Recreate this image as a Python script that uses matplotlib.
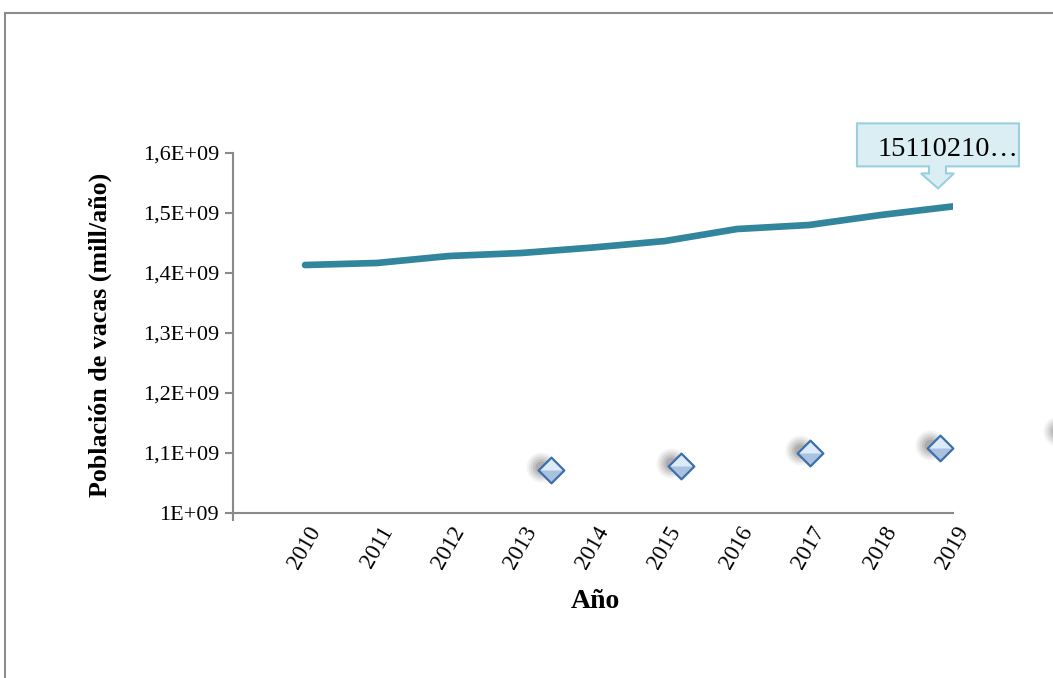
import matplotlib
matplotlib.use("Agg")
import matplotlib.pyplot as plt
import matplotlib.transforms as mtransforms
from matplotlib.patches import Polygon, Rectangle
from matplotlib.path import Path

# ---- data -------------------------------------------------------------
years = [2010, 2011, 2012, 2013, 2014, 2015, 2016, 2017, 2018, 2019]
population = [1.4133e9, 1.4167e9, 1.4283e9, 1.4333e9, 1.4425e9,
              1.4533e9, 1.4733e9, 1.4800e9, 1.4967e9, 1.511021e9]

marker_x = [2013.42, 2015.22, 2017.01, 2018.82, 2020.60]
marker_y = [1.0717e9, 1.0783e9, 1.1000e9, 1.1083e9, 1.1317e9]

y_ticks = [1.0e9, 1.1e9, 1.2e9, 1.3e9, 1.4e9, 1.5e9, 1.6e9]
y_tick_labels = ["1E+09", "1,1E+09", "1,2E+09", "1,3E+09",
                 "1,4E+09", "1,5E+09", "1,6E+09"]
x_tick_labels = [str(y) for y in years]

callout_text = "15110210\u2026"
y_title = "Población de vacas (mill/año)"
x_title = "Año"

# ---- style ------------------------------------------------------------
SERIF = ["Liberation Serif", "DejaVu Serif"]
plt.rcParams["font.family"] = SERIF
LINE_COLOR = "#31859C"
AXIS_GRAY = "#8A8A8A"

W, H, DPI = 1053, 678, 100
fig = plt.figure(figsize=(W / DPI, H / DPI), dpi=DPI)
fig.patch.set_facecolor("white")

# outer chart frame
fig.patches.append(Rectangle((4.5 / W, -0.2), 1.5, 1.2 - 13 / H,
                             transform=fig.transFigure, fill=False,
                             ec="#8C8C8C", lw=1.5, clip_on=False))

ax = fig.add_axes([233 / W, 1 - 513 / H, 720 / W, 360 / H])
ax.set_facecolor("none")

# main series
ax.plot(years, population, color=LINE_COLOR, lw=4.8,
        solid_capstyle="round", solid_joinstyle="round", zorder=3)

# diamond series with soft shadow
diamond = Path([(0, 1), (1, 0), (0, -1), (-1, 0), (0, 1)],
               [Path.MOVETO, Path.LINETO, Path.LINETO, Path.LINETO, Path.CLOSEPOLY])
upper = Path([(-1, 0), (0, 1), (1, 0), (-1, 0)],
             [Path.MOVETO, Path.LINETO, Path.LINETO, Path.CLOSEPOLY])
shadow_tr = mtransforms.offset_copy(ax.transData, fig=fig, x=-10, y=3, units="dots")
for size, alpha in [(30, 0.06), (26, 0.08), (22, 0.11), (17, 0.15), (12, 0.18)]:
    ax.plot(marker_x, marker_y, ls="none", marker="o", ms=size * 0.72,
            mfc="#505050", mec="none", alpha=alpha, transform=shadow_tr,
            clip_on=False, zorder=2)
ax.plot(marker_x, marker_y, ls="none", marker=diamond, ms=18.5,
        mfc="#A9C2E0", mec="none", clip_on=False, zorder=4)
ax.plot(marker_x, marker_y, ls="none", marker=upper, ms=18.5,
        mfc="#DCEBF9", mec="none", clip_on=False, zorder=5)
ax.plot(marker_x, marker_y, ls="none", marker=diamond, ms=18.5,
        mfc="none", mec="#3F6FAA", mew=1.6, clip_on=False, zorder=6)

# axes
ax.set_xlim(2009, 2019)
ax.set_ylim(1.0e9, 1.6e9)
ax.set_yticks(y_ticks)
ax.set_yticklabels(y_tick_labels)
ax.set_xticks(years)
ax.set_xticklabels(x_tick_labels, rotation=60, ha="center", va="top")
shift = mtransforms.ScaledTranslation(-5 / DPI, 0, fig.dpi_scale_trans)
for lab in ax.get_xticklabels():
    lab.set_transform(lab.get_transform() + shift)
ax.set_xticks([2009], minor=True)
ax.tick_params(axis="x", which="major", length=0, pad=7, labelsize=16.5)
ax.tick_params(axis="x", which="minor", length=6, width=1.5,
               color=AXIS_GRAY, direction="out")
ax.tick_params(axis="y", length=6, width=1.5, color=AXIS_GRAY,
               direction="out", labelsize=16, pad=4)
for side in ("top", "right"):
    ax.spines[side].set_visible(False)
for side in ("left", "bottom"):
    ax.spines[side].set_color(AXIS_GRAY)
    ax.spines[side].set_linewidth(1.5)

fig.text(100 / W, 1 - 335 / H, y_title, rotation=90, ha="center", va="center",
         fontsize=18.7, fontweight="bold")
fig.text(595 / W, 1 - 601 / H, x_title, ha="center", va="center",
         fontsize=20, fontweight="bold")

# callout for the last value (offsets in inches from the data point)
anchor = mtransforms.ScaledTranslation(years[-1], population[-1], ax.transData)
tr = fig.dpi_scale_trans + anchor
shape = [(-96, 83), (66, 83), (66, 40), (-7, 40), (-7, 33), (1, 33),
         (-15, 18), (-32, 33), (-24, 33), (-24, 40), (-96, 40)]
shape = [(px / 100, py / 100) for px, py in shape]
fig.patches.append(Polygon(shape, closed=True, transform=tr,
                           fc="#DAEEF3", ec="#9BCFDE", lw=1.5))
fig.text(-0.055, 0.50, callout_text, transform=tr, ha="center",
         va="baseline", fontsize=20.5, color="black")

fig.savefig("out.png", dpi=DPI, facecolor="white")
